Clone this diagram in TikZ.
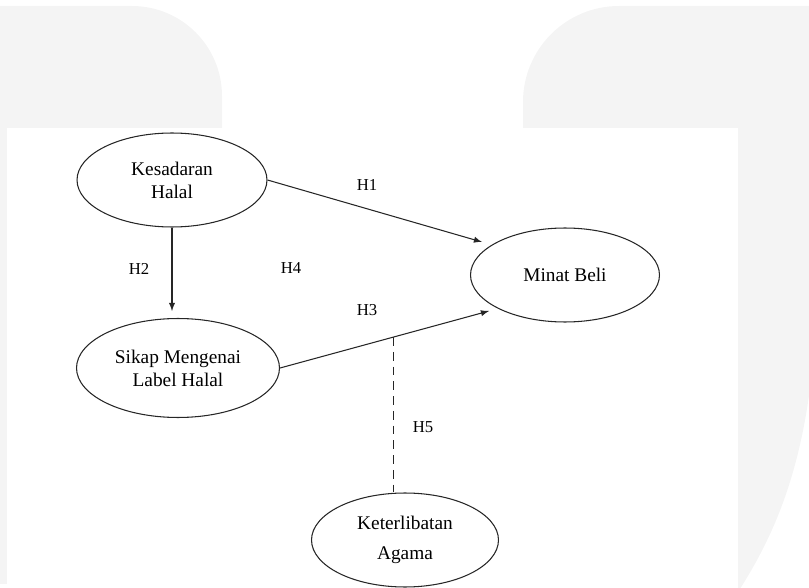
\documentclass[tikz,border=0pt]{standalone}
\usepackage{fontspec}
\setmainfont{Liberation Serif}
\usetikzlibrary{shapes.geometric}
\begin{document}
\begin{tikzpicture}[x=0.02cm, y=-0.02cm, line width=0.6pt,
    var/.style = {ellipse, draw=black!85, line width=0.6pt, minimum
      width=3.8cm, minimum height=1.88cm, inner sep=0pt, align=center,
      font=\fontsize{11}{13}\selectfont},
    lbl/.style = {font=\fontsize{9.5}{11}\selectfont, inner sep=0pt},
    bg/.style = {fill=black!4.5}]
  \useasboundingbox (0,0) rectangle (809,588);
  \fill[bg] (-10,128) -- (-10,6) -- (132,6) arc[start angle=-90, end
  angle=0, radius=90] -- (222,128) -- cycle; \fill[bg] (-10,128)
  rectangle (7,584); \fill[bg] (523,128) -- (523,102) arc[start
  angle=180, end angle=270, radius=96] -- (815,6) -- (815,340)
  .. controls (806,460) and (778,530) .. (738,592) -- (738,128) -- cycle;
  \node[var] (kesadaran) at (172,180) {Kesadaran\\Halal};
  \node[var, minimum width=4.06cm, minimum height=1.98cm] (sikap) at
  (178,368) {Sikap Mengenai\\Label Halal};
  \node[var, minimum width=3.78cm] (minat) at (565,275) {Minat Beli};
  \node[var, minimum width=3.74cm] (agama) at (405,540)
  {Keterlibatan\\[4pt]Agama};
  \coordinate (h1 tip) at (482,242); \coordinate (h2 tip) at (172,311);
  \coordinate (h3 tip) at (489,311); \coordinate (h5 top) at (393,337);
  \draw[-latex, black!85] (kesadaran.east) -- (h1 tip);
  \draw[-latex, black!85] (kesadaran.south) -- (h2 tip);
  \draw[-latex, black!85] (sikap.east) -- (h3 tip);
  \draw[black!85, line width=0.5pt, dash pattern=on 5pt off 3.4pt]
  (h5 top) -- (h5 top |- agama.north);
  \node[lbl] (h1) at (367,185) {H1}; \node[lbl] (h2) at (139,269)
  {H2}; \node[lbl] (h3) at (367,310) {H3}; \node[lbl] (h4) at
  (291,268) {H4}; \node[lbl] (h5) at (423,427) {H5};
\end{tikzpicture}
\end{document}
